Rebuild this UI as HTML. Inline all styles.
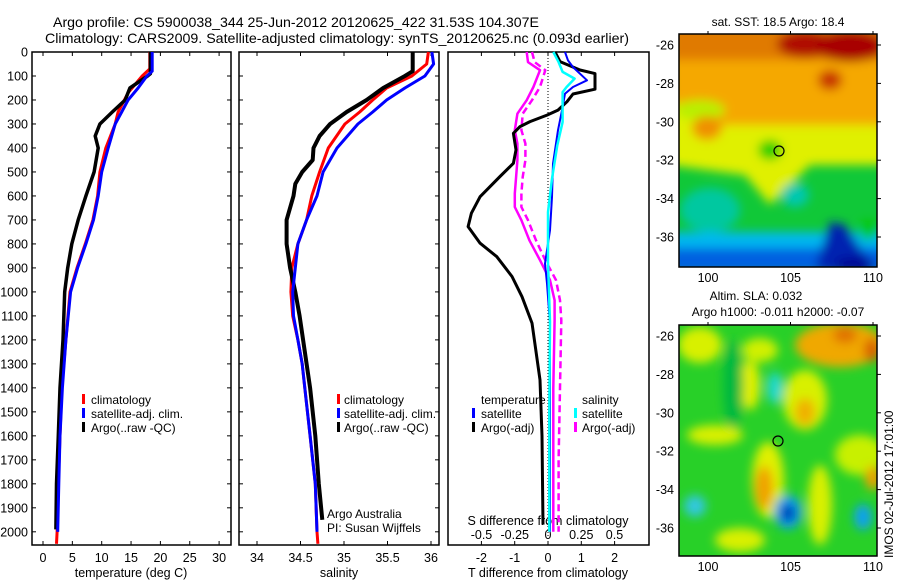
<!DOCTYPE html>
<html><head><meta charset="utf-8"><style>
html,body{margin:0;padding:0;background:#fff;}
svg{display:block;font-family:"Liberation Sans",sans-serif;}
text{fill:#000;}
</style></head><body>
<svg id="fig" width="900" height="580" viewBox="0 0 900 580" xmlns="http://www.w3.org/2000/svg">
<defs>
<filter id="blur" x="-20%" y="-20%" width="140%" height="140%"><feGaussianBlur stdDeviation="5"/></filter>
<clipPath id="clipTop"><rect x="679" y="34" width="198" height="233"/></clipPath>
<clipPath id="clipBot"><rect x="679" y="325" width="198" height="231"/></clipPath>
</defs>
<text x="296" y="27" font-size="14" text-anchor="middle" textLength="486" lengthAdjust="spacingAndGlyphs">Argo profile: CS 5900038_344 25-Jun-2012 20120625_422 31.53S 104.307E</text>
<text x="337" y="43" font-size="14" text-anchor="middle" textLength="584" lengthAdjust="spacingAndGlyphs">Climatology: CARS2009. Satellite-adjusted climatology: synTS_20120625.nc (0.093d earlier)</text>
<g id="axes"></g>
<g id="series"></g>

<!-- top map -->
<g clip-path="url(#clipTop)">
 <rect x="679" y="34" width="198" height="233" fill="#10c838"/>
 <g filter="url(#blur)">
  <rect x="670" y="25" width="220" height="135" fill="#f5a800"/>
  <rect x="670" y="25" width="220" height="35" fill="#e07a00"/>
  <ellipse cx="805" cy="44" rx="28" ry="14" fill="#b01000"/>
  <ellipse cx="850" cy="46" rx="35" ry="16" fill="#a80000"/>
  <ellipse cx="830" cy="80" rx="12" ry="10" fill="#c83000"/>
  <polygon points="670,100 720,125 877,125 890,128 890,165 810,165 770,205 745,175 670,165" fill="#e0f000"/>
  <ellipse cx="700" cy="110" rx="25" ry="10" fill="#b8f000"/>
  <ellipse cx="707" cy="128" rx="15" ry="12" fill="#f09000"/>
  <ellipse cx="770" cy="150" rx="12" ry="10" fill="#20d000"/>
  <ellipse cx="710" cy="210" rx="30" ry="22" fill="#00c8a0"/>
  <ellipse cx="795" cy="195" rx="14" ry="12" fill="#00c8b0"/>
  <rect x="670" y="232" width="220" height="20" fill="#00b8f0"/>
  <rect x="670" y="248" width="220" height="25" fill="#0060e0"/>
  <polygon points="815,270 830,222 845,225 870,262 870,275" fill="#0020b0"/>
  <ellipse cx="855" cy="264" rx="20" ry="6" fill="#000090"/>
  <ellipse cx="868" cy="230" rx="8" ry="10" fill="#00c800"/>
 </g>
</g>
<rect x="679" y="34" width="198" height="233" fill="none" stroke="#000" stroke-width="1.5"/>
<circle cx="779" cy="151" r="5" fill="none" stroke="#000" stroke-width="1.2"/>
<text x="778" y="26" font-size="12" text-anchor="middle">sat. SST: 18.5 Argo: 18.4</text>

<!-- bottom map -->
<g clip-path="url(#clipBot)">
 <rect x="679" y="325" width="198" height="231" fill="#28d028"/>
 <g filter="url(#blur)">
  <ellipse cx="700" cy="345" rx="22" ry="18" fill="#d8f000"/>
  <ellipse cx="840" cy="345" rx="45" ry="22" fill="#f0a800"/>
  <ellipse cx="845" cy="335" rx="12" ry="8" fill="#e07000"/>
  <ellipse cx="872" cy="350" rx="8" ry="12" fill="#d86000"/>
  <ellipse cx="760" cy="350" rx="18" ry="12" fill="#d0f000"/>
  <ellipse cx="805" cy="400" rx="22" ry="30" fill="#d8f000"/>
  <ellipse cx="805" cy="412" rx="10" ry="14" fill="#f0b000"/>
  <ellipse cx="750" cy="385" rx="10" ry="25" fill="#e0f000"/>
  <ellipse cx="733" cy="385" rx="10" ry="45" fill="#00b840"/>
  <ellipse cx="715" cy="435" rx="28" ry="10" fill="#d8f000"/>
  <ellipse cx="775" cy="388" rx="8" ry="16" fill="#20d8d0"/>
  <ellipse cx="768" cy="480" rx="16" ry="38" fill="#e0f000"/>
  <ellipse cx="764" cy="488" rx="9" ry="22" fill="#f0a000"/>
  <ellipse cx="820" cy="505" rx="12" ry="40" fill="#d8f000"/>
  <ellipse cx="860" cy="455" rx="25" ry="20" fill="#c8f000"/>
  <ellipse cx="873" cy="478" rx="8" ry="12" fill="#f0a000"/>
  <ellipse cx="740" cy="540" rx="25" ry="12" fill="#d8f000"/>
  <ellipse cx="695" cy="506" rx="11" ry="11" fill="#30c8e0"/>
  <ellipse cx="788" cy="512" rx="14" ry="17" fill="#10a0f0"/>
  <ellipse cx="788" cy="513" rx="7" ry="9" fill="#0030b0"/>
  <ellipse cx="863" cy="517" rx="9" ry="13" fill="#10a0f0"/>
 </g>
</g>
<rect x="679" y="325" width="198" height="231" fill="none" stroke="#000" stroke-width="1.5"/>
<circle cx="778" cy="441" r="5" fill="none" stroke="#000" stroke-width="1.2"/>
<text x="756" y="300" font-size="12" text-anchor="middle">Altim. SLA: 0.032</text>
<text x="778" y="316" font-size="12" text-anchor="middle">Argo h1000: -0.011 h2000: -0.07</text>
<text transform="translate(893,558) rotate(-90)" font-size="12">IMOS 02-Jul-2012 17:01:00</text>

<g font-size="12">
 <rect x="82" y="394" width="3" height="10" fill="#f00"/><text x="91" y="404">climatology</text>
 <rect x="82" y="408" width="3" height="10" fill="#00f"/><text x="91" y="418">satellite-adj. clim.</text>
 <rect x="82" y="422" width="3" height="10" fill="#000"/><text x="91" y="432">Argo(..raw -QC)</text>
</g>
<g font-size="12">
 <rect x="337" y="394" width="3" height="10" fill="#f00"/><text x="344" y="404">climatology</text>
 <rect x="337" y="408" width="3" height="10" fill="#00f"/><text x="344" y="418">satellite-adj. clim.</text>
 <rect x="337" y="422" width="3" height="10" fill="#000"/><text x="344" y="432">Argo(..raw -QC)</text>
 <text x="327" y="518">Argo Australia</text>
 <text x="327" y="532">PI: Susan Wijffels</text>
</g>
<g font-size="12">
 <text x="481" y="404">temperature</text>
 <rect x="472" y="408" width="3" height="10" fill="#00f"/><text x="481" y="418">satellite</text>
 <rect x="472" y="422" width="3" height="10" fill="#000"/><text x="481" y="432">Argo(-adj)</text>
 <text x="582" y="404">salinity</text>
 <rect x="574" y="408" width="3" height="10" fill="#0ff"/><text x="582" y="418">satellite</text>
 <rect x="574" y="422" width="3" height="10" fill="#f0f"/><text x="582" y="432">Argo(-adj)</text>
</g>
</svg>
<script>
// ---- data ----
const depthTicks = [0,100,200,300,400,500,600,700,800,900,1000,1100,1200,1300,1400,1500,1600,1700,1800,1900,2000];
const tempTicks = [0,5,10,15,20,25,30];
const salTicks = [34,34.5,35,35.5,36];
const salTickLabels = ["34","34.5","35","35.5","36"];
const tdiffTicks = [-2,-1,0,1,2];
const sdiffTicks = [-0.5,-0.25,0,0.25,0.5];
const sdiffTickLabels = ["-0.5","-0.25","0","0.25","0.5"];
const latTicks = [-26,-28,-30,-32,-34,-36];
const lonTicks = [100,105,110];

const tClimDepth = [0,70,100,170,250,300,400,500,600,700,800,900,1000,1200,1400,1600,1800,2000,2050];
const tClimVal   = [18.2,18.2,16.9,14.5,12.8,12.3,10.7,9.7,9.3,8.5,7.2,5.8,4.6,3.9,3.2,2.9,2.6,2.4,2.3];
const tSatDepth = [0,80,100,150,200,250,300,400,500,600,700,800,900,1000,1200,1400,1600,1800,2000];
const tSatVal   = [18.6,18.6,17.7,16.2,14.5,13.4,12.3,11.1,10.0,9.4,8.6,7.3,5.9,4.7,3.9,3.3,2.9,2.7,2.5];
const tArgoDepth = [0,90,100,150,200,250,300,350,400,500,600,700,800,900,1000,1200,1400,1600,1800,1990];
const tArgoVal   = [18.3,18.3,17.8,14.8,14.0,11.8,9.7,8.9,9.4,8.7,7.3,6.0,4.9,4.2,3.7,3.4,2.9,2.6,2.3,2.2];

const sClimDepth = [0,50,100,150,200,250,300,400,500,600,700,800,900,1000,1100,1200,1300,1400,1600,1800,2000,2050];
const sClimVal   = [35.97,35.95,35.78,35.49,35.33,35.18,35.01,34.82,34.72,34.63,34.57,34.47,34.40,34.39,34.41,34.47,34.52,34.55,34.61,34.67,34.69,34.70];
const sSatDepth = [0,50,100,150,200,250,300,400,500,600,700,800,900,1000,1100,1200,1300,1400,1600,1800,2000];
const sSatVal   = [36.01,36.03,35.93,35.70,35.49,35.33,35.16,34.92,34.76,34.69,34.57,34.47,34.44,34.41,34.42,34.47,34.52,34.55,34.61,34.67,34.69];
const sArgoDepth = [0,80,100,150,200,250,300,350,400,450,500,550,600,700,800,900,1000,1100,1200,1300,1400,1600,1800,1950];
const sArgoVal   = [35.79,35.79,35.70,35.45,35.26,35.03,34.84,34.72,34.65,34.64,34.52,34.44,34.42,34.34,34.34,34.38,34.44,34.49,34.53,34.57,34.61,34.67,34.71,34.75];

const dTArgoDepth = [0,40,75,90,155,175,207,242,263,290,311,339,408,464,519,603,672,728,797,853,936,1020,1130,1367,1600,1970];
const dTArgoVal   = [0.21,0.36,0.96,1.41,1.41,0.75,0.57,0.30,-0.03,-0.54,-0.84,-1.04,-0.96,-1.04,-1.44,-2.04,-2.30,-2.40,-2.04,-1.54,-1.08,-0.78,-0.48,-0.24,-0.18,-0.15];
const dTSatDepth = [0,35,63,118,146,174,243,326,465,604,743,826,882,965,1132,1450,2000];
const dTSatVal   = [0.51,0.60,0.75,1.17,0.75,0.51,0.42,0.30,0.15,0.12,0.06,-0.03,-0.09,-0.03,0.06,0.06,0.06];
const dSSatDepth = [0,42,83,111,146,167,236,292,389,528,667,875,1125,1500,2000];
const dSSatVal   = [0.04,0.08,0.11,0.20,0.14,0.11,0.11,0.11,0.07,0.03,0.00,0.00,0.015,0.01,0.01];
const dSArgoDepth = [0,42,76,146,201,257,326,382,451,521,590,646,701,785,868,951,1035,1118,1400,1700,2000];
const dSArgoVal   = [-0.16,-0.15,-0.06,-0.11,-0.16,-0.23,-0.25,-0.23,-0.23,-0.24,-0.25,-0.25,-0.20,-0.14,-0.06,0.015,0.05,0.05,0.04,0.04,0.04];
const dSArgo2Depth = [0,42,76,146,201,257,326,382,451,521,590,646,701,785,868,951,1035,1118,1400,1700,2000];
const dSArgo2Val   = [-0.12,-0.10,-0.02,-0.06,-0.12,-0.19,-0.20,-0.17,-0.17,-0.19,-0.20,-0.20,-0.15,-0.09,-0.02,0.06,0.09,0.10,0.09,0.08,0.08];

// ---- axes ----
const NS = "http://www.w3.org/2000/svg";
const TOP = 52, BOT = 545;
function yD(d){ return TOP + (d/2055)*(BOT-TOP); }
function xT(v){ return 43 + v*5.87; }
function xS(v){ return 257 + (v-34)*87; }
function xDT(v){ return 548 + v*33.3; }
function xDS(v){ return 548 + v*133; }
function lonX(v){ return 708 + (v-100)*16.5; }
function latYTop(v){ return 45 + (-26 - v)*19.2; }
function latYBot(v){ return 45 + 291 + (-26 - v)*19.2; }

function mk(tag, attrs, parent){
  const e = document.createElementNS(NS, tag);
  for (const k in attrs) e.setAttribute(k, attrs[k]);
  parent.appendChild(e);
  return e;
}
const axes = document.getElementById('axes');
const ser = document.getElementById('series');
const panels = [[32,231],[239,439],[448,649]];
panels.forEach((p,i)=>{
  const r = mk('rect',{x:p[0],y:TOP,width:p[1]-p[0],height:BOT-TOP,fill:'none',stroke:'#000','stroke-width':1.5},axes);
  
  
});
depthTicks.forEach(d=>{
  const y = yD(d);
  const t = mk('text',{x:28,y:y+4.5,'font-size':12.5,'text-anchor':'end'},axes);
  t.textContent = d;
  
  
  [[32,36],[227,231],[239,243],[435,439]].forEach(s=>{
    const l = mk('line',{x1:s[0],x2:s[1],y1:y,y2:y,stroke:'#000'},axes);
    
    
  });
});
function xticks(vals, labels, fx, ly, name){
  vals.forEach((v,i)=>{
    const x = fx(v);
    const t = mk('text',{x:x,y:ly,'font-size':12.5,'text-anchor':'middle'},axes);
    t.textContent = labels ? labels[i] : v;
    
    
    [[TOP,TOP+4],[BOT-4,BOT]].forEach(s=>{
      const l = mk('line',{x1:x,x2:x,y1:s[0],y2:s[1],stroke:'#000'},axes);
      
      
    });
  });
}
xticks(tempTicks,null,xT,562,'temperature');
xticks(salTicks,salTickLabels,xS,562,'salinity');
xticks(tdiffTicks,null,xDT,562,'t-diff');
sdiffTicks.forEach((v,i)=>{
  const t = mk('text',{x:xDS(v),y:539,'font-size':12.5,'text-anchor':'middle'},axes);
  t.textContent = sdiffTickLabels[i];
  
  
});
[['temperature (deg C)',131,'temperature-axis-title'],['salinity',339,'salinity-axis-title'],['T difference from climatology',548,'t-diff-axis-title']].forEach(a=>{
  const t = mk('text',{x:a[1],y:577,'font-size':12.5,'text-anchor':'middle'},axes);
  t.textContent = a[0];
  
  
});
const st = mk('text',{x:548,y:525,'font-size':12.5,'text-anchor':'middle'},axes);
st.textContent = 'S difference from climatology';


const zl = mk('line',{x1:548,x2:548,y1:TOP,y2:BOT,stroke:'#000','stroke-dasharray':'1,2'},axes);



[[latYTop,34,267],[latYBot,325,556]].forEach((m,mi)=>{
  latTicks.forEach(v=>{
    const y = m[0](v);
    const t = mk('text',{x:674,y:y+4.5,'font-size':12.5,'text-anchor':'end'},axes);
    t.textContent = v;
    
    
    const l = mk('line',{x1:873,x2:881,y1:y,y2:y,stroke:'#000'},axes);
    
    
  });
  lonTicks.forEach(v=>{
    const x = lonX(v);
    const t = mk('text',{x:x,y:m[2]+15,'font-size':12.5,'text-anchor':'middle'},axes);
    t.textContent = v;
    
    
    const l = mk('line',{x1:x,x2:x,y1:m[1]-3,y2:m[1]+1,stroke:'#000'},axes);
    
    
  });
});

// ---- series ----
function line(ds, vs, fx, color, w, name, dash){
  const pts = ds.map((d,i)=> fx(vs[i]).toFixed(1)+','+yD(d).toFixed(1)).join(' ');
  const pl = mk('polyline',{points:pts,fill:'none',stroke:color,'stroke-width':w,'stroke-linejoin':'round'},ser);
  if (dash) pl.setAttribute('stroke-dasharray',dash);
  
  
}
line(tClimDepth,tClimVal,xT,'#f00',3,'temp-climatology-line');
line(tArgoDepth,tArgoVal,xT,'#000',3.5,'temp-argo-line');
line(tSatDepth,tSatVal,xT,'#00f',3,'temp-satellite-line');
line(sClimDepth,sClimVal,xS,'#f00',3,'sal-climatology-line');
line(sArgoDepth,sArgoVal,xS,'#000',4,'sal-argo-line');
line(sSatDepth,sSatVal,xS,'#00f',3,'sal-satellite-line');
line(dSArgo2Depth,dSArgo2Val,xDS,'#f0f',2.5,'sdiff-argo-dashed-line','7,4');
line(dSArgoDepth,dSArgoVal,xDS,'#f0f',2.5,'sdiff-argo-line');
line(dTArgoDepth,dTArgoVal,xDT,'#000',3,'tdiff-argo-line');
line(dTSatDepth,dTSatVal,xDT,'#00f',2,'tdiff-satellite-line');
line(dSSatDepth,dSSatVal,xDS,'#0ff',2.5,'sdiff-satellite-line');
</script>
</body></html>
